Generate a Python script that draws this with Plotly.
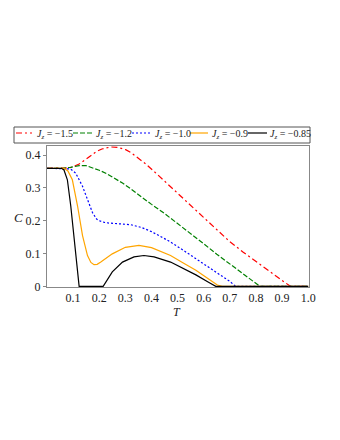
import plotly.graph_objects as go

# ---- data ----
names = ["−1.5", "−1.2", "−1.0", "−0.9", "−0.85"]
colors = ["#ff0000", "#008000", "#0000ff", "#ffa500", "#000000"]
dashes = ["6px,3px,2px,3px", "5px,2px", "2px,2px", "solid", "solid"]

T_m15 = [0, 0.06, 0.085, 0.1, 0.123, 0.15, 0.187, 0.21, 0.244, 0.27, 0.301, 0.321, 0.34, 0.38, 0.42,
         0.46, 0.5, 0.55, 0.6, 0.645, 0.7, 0.75, 0.8, 0.85, 0.9, 0.932, 1.0]
C_m15 = [0.36, 0.36, 0.361, 0.365, 0.373, 0.388, 0.41, 0.419, 0.425, 0.424, 0.417, 0.408, 0.396, 0.372, 0.343,
         0.313, 0.283, 0.246, 0.209, 0.175, 0.136, 0.105, 0.075, 0.047, 0.018, 0.0, 0.0]

T_m12 = [0, 0.06, 0.09, 0.123, 0.15, 0.175, 0.2, 0.225, 0.26, 0.289, 0.321, 0.36, 0.4, 0.45, 0.5,
         0.55, 0.6, 0.65, 0.7, 0.75, 0.8, 0.815, 1.0]
C_m12 = [0.36, 0.36, 0.363, 0.368, 0.368, 0.362, 0.354, 0.345, 0.329, 0.315, 0.297, 0.273, 0.25, 0.222, 0.192,
         0.161, 0.13, 0.098, 0.068, 0.038, 0.009, 0.0, 0.0]

T_m10 = [0, 0.07, 0.09, 0.11, 0.136, 0.155, 0.174, 0.19, 0.2, 0.22, 0.238, 0.289, 0.321, 0.36, 0.4,
         0.44, 0.473, 0.52, 0.57, 0.62, 0.665, 0.7, 0.722, 1.0]
C_m10 = [0.36, 0.36, 0.358, 0.345, 0.305, 0.265, 0.225, 0.205, 0.2, 0.195, 0.193, 0.19, 0.188, 0.18, 0.167,
         0.15, 0.135, 0.111, 0.084, 0.057, 0.034, 0.015, 0.0, 0.0]

T_m09 = [0, 0.065, 0.08, 0.097, 0.117, 0.136, 0.155, 0.168, 0.18, 0.192, 0.206, 0.25, 0.3, 0.352, 0.4,
         0.45, 0.473, 0.52, 0.57, 0.62, 0.652, 0.671, 1.0]
C_m09 = [0.36, 0.36, 0.352, 0.325, 0.245, 0.155, 0.094, 0.073, 0.066, 0.067, 0.074, 0.099, 0.119, 0.125, 0.118,
         0.102, 0.094, 0.072, 0.049, 0.022, 0.004, 0.0, 0.0]

T_m085 = [0, 0.055, 0.065, 0.078, 0.091, 0.104, 0.117, 0.123, 0.215, 0.25, 0.289, 0.333, 0.371, 0.41,
          0.473, 0.52, 0.57, 0.62, 0.646, 1.0]
C_m085 = [0.36, 0.36, 0.355, 0.325, 0.245, 0.145, 0.044, 0.0, 0.0, 0.044, 0.074, 0.09, 0.094, 0.09,
          0.074, 0.056, 0.035, 0.012, 0.0, 0.0]

x_ticks = [0.1, 0.2, 0.3, 0.4, 0.5, 0.6, 0.7, 0.8, 0.9, 1.0]
y_ticks = [0, 0.1, 0.2, 0.3, 0.4]

series = [(T_m15, C_m15), (T_m12, C_m12), (T_m10, C_m10), (T_m09, C_m09), (T_m085, C_m085)]

W, H = 340, 440
OFF = 8  # page body margin
# plot box in screenshot pixels
L, R, TOP, BOT = 47, 309, 146, 287

fig = go.Figure()
for (t, c), col, d, n in zip(series, colors, dashes, names):
    fig.add_trace(go.Scatter(x=t, y=c, mode="lines", showlegend=False, name=n,
                             line=dict(color=col, width=1.2, dash=d)))

serif = "Liberation Serif, Times New Roman, serif"

def px2paper(px, py):
    return (px - L) / (R - L), (BOT - py) / (BOT - TOP)

# custom legend
shapes = []
annotations = []
x0, y0 = px2paper(14, 127)
x1, y1 = px2paper(310, 143)
shapes.append(dict(type="rect", xref="paper", yref="paper", x0=x0, x1=x1, y0=y0, y1=y1,
                   line=dict(color="#555555", width=1), fillcolor="white"))
sample_x = [(16, 32), (73, 92), (132, 150), (190, 208), (248, 267)]
text_x = [35, 94, 153, 210, 268]
ly = 133
for (a, b), tx, col, d, n in zip(sample_x, text_x, colors, dashes, names):
    sx0, sy = px2paper(a, ly)
    sx1, _ = px2paper(b, ly)
    shapes.append(dict(type="line", xref="paper", yref="paper", x0=sx0, x1=sx1, y0=sy, y1=sy,
                       line=dict(color=col, width=1.2, dash=d)))
    ax, ay = px2paper(tx, ly + 1)
    annotations.append(dict(xref="paper", yref="paper", x=ax, y=ay, xanchor="left", yanchor="middle",
                            showarrow=False, text="<i>J</i><sub><i>z</i></sub> = " + n,
                            font=dict(family=serif, size=10, color="#222222")))

# axis titles
cx, cy = px2paper(18, 217)
annotations.append(dict(xref="paper", yref="paper", x=cx, y=cy, xanchor="center", yanchor="middle",
                        showarrow=False, text="<i>C</i>",
                        font=dict(family=serif, size=13, color="#222222")))
tx_, ty_ = px2paper(177, 312)
annotations.append(dict(xref="paper", yref="paper", x=tx_, y=ty_, xanchor="center", yanchor="middle",
                        showarrow=False, text="<i>T</i>",
                        font=dict(family=serif, size=12, color="#222222")))

fig.update_layout(
    width=W, height=H,
    margin=dict(l=L - OFF, r=W - R + OFF, t=TOP - OFF, b=H - BOT + OFF),
    paper_bgcolor="white", plot_bgcolor="white",
    shapes=shapes, annotations=annotations,
    xaxis=dict(range=[0, 1.003], tickvals=x_ticks, ticktext=[f"{v:.1f}" for v in x_ticks],
               showgrid=False, zeroline=False, showline=True, mirror=True, linecolor="#888888",
               linewidth=1, ticks="", tickfont=dict(family=serif, size=12, color="#222222")),
    yaxis=dict(range=[-0.002, 0.428], tickvals=y_ticks, ticktext=["0", "0.1", "0.2", "0.3", "0.4"],
               showgrid=False, zeroline=False, showline=True, mirror=True, linecolor="#888888",
               linewidth=1, ticks="outside", ticklen=3, tickcolor="#888888",
               tickfont=dict(family=serif, size=12, color="#222222")),
)

fig.write_html("out.html")
